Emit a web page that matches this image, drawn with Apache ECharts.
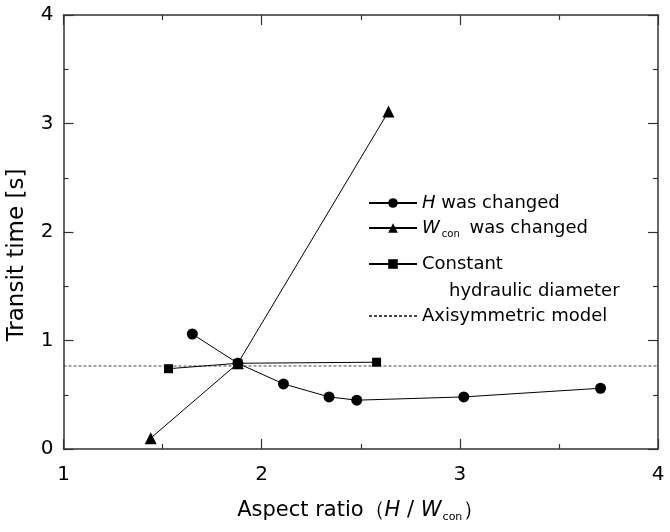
<!DOCTYPE html>
<html>
<head>
<meta charset="utf-8">
<script src="https://cdn.jsdelivr.net/npm/echarts@6/dist/echarts.min.js"></script>
<style>html,body{margin:0;padding:0;background:#fff}#c{width:670px;height:532px}</style>
</head>
<body>
<div id="c"></div>
<script>
// ---- data ----
const hX = [1.65, 1.88, 2.11, 2.34, 2.48, 3.02, 3.71];
const hY = [1.06, 0.79, 0.60, 0.48, 0.45, 0.48, 0.56];
const wX = [1.44, 1.88, 2.64];
const wY = [0.10, 0.79, 3.11];
const cX = [1.53, 1.88, 2.58];
const cY = [0.74, 0.79, 0.80];
const axiX = [1, 4];
const axiY = [0.765, 0.765];
const xTicks = [1, 2, 3, 4];
const yTicks = [0, 1, 2, 3, 4];

const FONT = 'DejaVu Sans';
const AX = '#333';
const pairs = (xs, ys) => xs.map((x, i) => [x, ys[i]]);

const chart = echarts.init(document.getElementById('c'), null, {renderer: 'canvas'});

const tickCommon = {
  axisLine: {show: true, onZero: false, lineStyle: {color: AX, width: 1.5}},
  axisTick: {show: true, inside: true, length: 10, lineStyle: {color: AX, width: 1.2}},
  minorTick: {show: true, splitNumber: 2, length: 5, lineStyle: {color: AX, width: 1.2}},
  splitLine: {show: false},
  minorSplitLine: {show: false}
};

const legendBase = {
  orient: 'vertical', padding: 0, itemWidth: 48, itemHeight: 12, itemGap: 0,
  selectedMode: false,
  textStyle: {fontFamily: FONT, fontSize: 18, color: '#000',
    rich: {
      i: {fontFamily: FONT, fontSize: 18, fontStyle: 'italic', color: '#000'},
      sub: {fontFamily: FONT, fontSize: 10, color: '#000', verticalAlign: 'bottom', padding: [12, 4, 0, 2]}
    }
  }
};

const option = {
  backgroundColor: '#fff',
  animation: false,
  grid: {left: 63.5, right: 12, top: 15, bottom: 83, containLabel: false, outerBoundsMode: 'none'},
  xAxis: [
    Object.assign({
      type: 'value', min: 1, max: 4, interval: 1, position: 'bottom',
      axisLabel: {margin: 16, fontFamily: FONT, fontSize: 20, color: '#000',
        formatter: v => xTicks.includes(v) ? String(v) : ''},
      name: '{n|Aspect ratio（}{i|H}{n| / }{i|W}{sub|con}{n|）}',
      nameLocation: 'middle', nameGap: 49,
      nameTextStyle: {fontFamily: FONT, fontSize: 21, color: '#000',
        rich: {
          n: {fontFamily: FONT, fontSize: 21, color: '#000'},
          i: {fontFamily: FONT, fontSize: 21, fontStyle: 'italic', color: '#000'},
          sub: {fontFamily: FONT, fontSize: 11, color: '#000', verticalAlign: 'bottom', padding: [14, 1, 0, 1]}
        }}
    }, tickCommon),
    Object.assign({
      type: 'value', min: 1, max: 4, interval: 1, position: 'top',
      axisLabel: {show: false}
    }, tickCommon)
  ],
  yAxis: [
    Object.assign({
      type: 'value', min: 0, max: 4, interval: 1, position: 'left',
      axisLabel: {margin: 10, fontFamily: FONT, fontSize: 20, color: '#000',
        formatter: v => yTicks.includes(v) ? String(v) : ''},
      name: 'Transit time [s]', nameLocation: 'middle', nameGap: 35, nameRotate: 90,
      nameTextStyle: {fontFamily: FONT, fontSize: 23, color: '#000', padding: [0, 46, 0, 0]}
    }, tickCommon),
    Object.assign({
      type: 'value', min: 0, max: 4, interval: 1, position: 'right',
      axisLabel: {show: false}
    }, tickCommon)
  ],
  legend: [
    Object.assign({}, legendBase, {left: 368, top: 194, data: ['H was changed'],
      formatter: () => '{i|H} was changed'}),
    Object.assign({}, legendBase, {left: 368, top: 219, data: ['W was changed'],
      formatter: () => '{i|W}{sub|con} was changed'}),
    Object.assign({}, legendBase, {left: 368, top: 255, data: ['Constant hydraulic diameter'],
      formatter: () => 'Constant'}),
    Object.assign({}, legendBase, {left: 368, top: 307,
      data: [{name: 'Axisymmetric model', itemStyle: {opacity: 0}}],
      formatter: () => 'Axisymmetric model'})
  ],
  graphic: [
    {type: 'text', left: 449, top: 282,
      style: {text: 'hydraulic diameter', font: '18px "DejaVu Sans"', fill: '#000'}}
  ],
  series: [
    {name: 'Axisymmetric model', type: 'line', data: pairs(axiX, axiY),
      showSymbol: false, symbol: 'none',
      lineStyle: {color: '#444', width: 1, type: [3, 2]}, itemStyle: {color: '#444'}, z: 1},
    {name: 'H was changed', type: 'line', data: pairs(hX, hY),
      symbol: 'circle', symbolSize: 11,
      lineStyle: {color: '#000', width: 1}, itemStyle: {color: '#000'}, z: 3},
    {name: 'W was changed', type: 'line', data: pairs(wX, wY),
      symbol: 'triangle', symbolSize: 12,
      lineStyle: {color: '#000', width: 1}, itemStyle: {color: '#000'}, z: 3},
    {name: 'Constant hydraulic diameter', type: 'line', data: pairs(cX, cY),
      symbol: 'rect', symbolSize: 9,
      lineStyle: {color: '#000', width: 1}, itemStyle: {color: '#000'}, z: 3}
  ]
};
chart.setOption(option);
</script>
</body>
</html>
